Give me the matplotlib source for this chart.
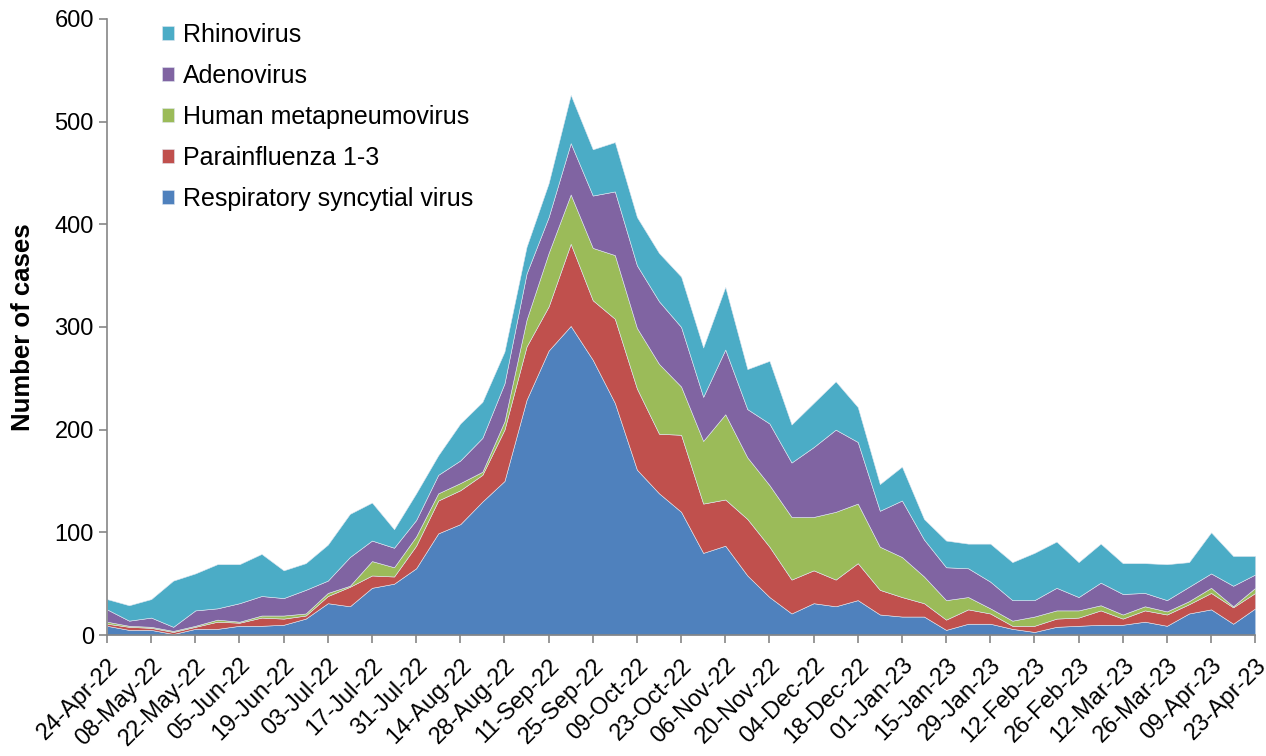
import matplotlib
matplotlib.use('Agg')
import matplotlib.pyplot as plt
import numpy as np
import pandas as pd

weeks = pd.date_range('2022-04-24', '2023-04-23', freq='7D')

rsv = [9, 5, 5, 1, 6, 6, 9, 9, 10, 16, 31, 28, 46, 50, 65, 99, 108, 130, 150, 229,
       277, 301, 268, 226, 161, 138, 120, 80, 87, 58, 37, 21, 31, 28, 34, 20, 18, 18,
       5, 11, 11, 6, 3, 8, 9, 10, 10, 13, 9, 21, 25, 11, 26]
para = [2, 3, 2, 2, 2, 7, 3, 8, 6, 3, 7, 19, 12, 7, 22, 32, 33, 26, 50, 52,
        43, 80, 58, 82, 79, 58, 75, 48, 45, 55, 49, 33, 32, 26, 36, 24, 19, 13,
        10, 14, 10, 3, 6, 8, 8, 14, 6, 11, 11, 9, 16, 16, 15]
hmpv = [2, 1, 1, 1, 1, 2, 1, 2, 3, 2, 3, 1, 14, 9, 9, 7, 7, 3, 8, 26,
        52, 48, 51, 62, 59, 68, 47, 61, 83, 60, 60, 61, 52, 66, 58, 42, 39, 26,
        19, 12, 5, 5, 9, 8, 7, 5, 4, 4, 3, 3, 5, 1, 5]
adeno = [12, 5, 9, 4, 15, 11, 18, 19, 17, 23, 12, 28, 20, 19, 16, 18, 22, 33, 37, 45,
         35, 50, 51, 62, 61, 61, 58, 43, 63, 47, 60, 53, 68, 80, 60, 35, 55, 36,
         32, 28, 26, 20, 16, 22, 13, 22, 20, 13, 11, 14, 14, 20, 13]
rhino = [10, 15, 18, 45, 36, 43, 38, 41, 27, 26, 35, 42, 37, 18, 26, 19, 36, 35, 31, 26,
         33, 47, 45, 48, 47, 47, 49, 48, 61, 39, 61, 37, 43, 47, 34, 26, 33, 20,
         26, 24, 37, 37, 46, 45, 34, 38, 30, 29, 35, 24, 40, 29, 18]

names = ['Respiratory syncytial virus', 'Parainfluenza 1-3', 'Human metapneumovirus',
         'Adenovirus', 'Rhinovirus']
colors = ['#4F81BD', '#C0504D', '#9BBB59', '#8064A2', '#4BACC6']

plt.rcParams['font.family'] = ['Liberation Sans', 'DejaVu Sans']

fig = plt.figure(figsize=(12.66, 7.56), dpi=100)
ax = fig.add_axes([0.0845, 0.16, 0.907, 0.815])

ax.stackplot(weeks, rsv, para, hmpv, adeno, rhino, labels=names,
             colors=colors, edgecolor='#dfe6f0', linewidth=0.4)

ax.set_xlim(weeks[0], weeks[-1])
ax.set_ylim(0, 600)
ax.set_yticks(np.arange(0, 601, 100))
ax.set_xticks(weeks[::2])
ax.set_xticklabels([d.strftime('%d-%b-%y') for d in weeks[::2]], rotation=45,
                   ha='right', rotation_mode='anchor')
ax.tick_params(axis='both', labelsize=17, color='#868686', length=6, width=1.2)
ax.tick_params(axis='x', pad=8)
ax.set_ylabel('Number of cases', fontsize=18.5, fontweight='bold', labelpad=14)

for s in ['top', 'right']:
    ax.spines[s].set_visible(False)
for s in ['left', 'bottom']:
    ax.spines[s].set_color('#868686')
    ax.spines[s].set_linewidth(1.2)

h, l = ax.get_legend_handles_labels()
ax.legend(h[::-1], l[::-1], loc='upper left', bbox_to_anchor=(0.028, 1.03),
          frameon=False, fontsize=18, handlelength=0.5, handleheight=0.5,
          handletextpad=0.35, labelspacing=0.68)

fig.savefig('out.png', dpi=100)
